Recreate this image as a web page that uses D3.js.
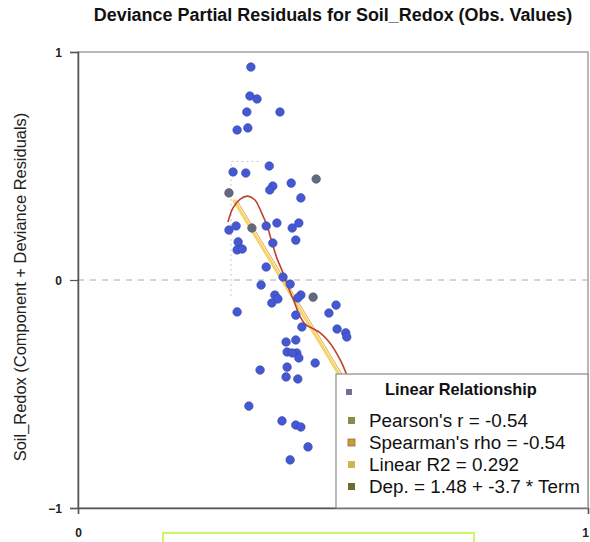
<!DOCTYPE html>
<html>
<head>
<meta charset="utf-8">
<script src="https://cdn.jsdelivr.net/npm/d3@7"></script>
<style>
  html, body { margin: 0; padding: 0; background: #fff; }
  svg { display: block; font-family: "Liberation Sans", Arial, sans-serif; }
</style>
</head>
<body>
<svg id="chart" width="590" height="542"></svg>
<script>
// Partial residuals (component + deviance residual) against the observed Soil_Redox term
const residX = [0.339, 0.337, 0.351, 0.331, 0.396, 0.312, 0.333, 0.375, 0.304, 0.329,
                0.382, 0.376, 0.418, 0.437, 0.369, 0.390, 0.433, 0.420, 0.427, 0.296,
                0.310, 0.314, 0.312, 0.322, 0.382, 0.369, 0.359, 0.402, 0.416, 0.386,
                0.380, 0.392, 0.437, 0.431, 0.312, 0.506, 0.492, 0.427, 0.439, 0.508,
                0.525, 0.527, 0.408, 0.427, 0.410, 0.429, 0.433, 0.420, 0.465, 0.357,
                0.410, 0.408, 0.431, 0.335, 0.400, 0.427, 0.437, 0.451, 0.416];
const residY = [0.934, 0.807, 0.794, 0.737, 0.737, 0.658, 0.667, 0.500, 0.474, 0.469,
                0.412, 0.395, 0.425, 0.360, 0.237, 0.250, 0.250, 0.228, 0.175, 0.219,
                0.237, 0.167, 0.132, 0.136, 0.162, 0.057, -0.022, 0.013, -0.018, -0.066,
                -0.101, -0.083, -0.066, -0.079, -0.140, -0.110, -0.145, -0.154, -0.206, -0.215,
                -0.232, -0.250, -0.272, -0.263, -0.316, -0.320, -0.342, -0.320, -0.364, -0.395,
                -0.382, -0.425, -0.434, -0.553, -0.618, -0.636, -0.645, -0.732, -0.789];

// Observations drawn in the secondary (grey) symbol
const greyX = [0.467, 0.296, 0.341, 0.461];
const greyY = [0.443, 0.382, 0.228, -0.075];

// Smoothed (local regression) curve through the residuals
const smoothX = [0.294, 0.304, 0.318, 0.333, 0.347, 0.361, 0.371, 0.380, 0.390, 0.402,
                 0.412, 0.424, 0.435, 0.447, 0.459, 0.475, 0.494, 0.508, 0.518, 0.527];
const smoothY = [0.254, 0.316, 0.355, 0.368, 0.351, 0.289, 0.237, 0.167, 0.096, 0.031,
                 -0.031, -0.096, -0.158, -0.197, -0.211, -0.232, -0.276, -0.325, -0.368, -0.417];

// Linear fit: Dep. = 1.48 + -3.7 * Term, drawn over the observed term range
const fitIntercept = 1.48;
const fitSlope = -3.7;
const fitRange = [0.305, 0.54];

// Dotted band outline around the smoother
const bandX = [0.300, 0.300, 0.361];
const bandY = [-0.07, 0.52, 0.52];

const xTicks = [0, 1];
const yTicks = [-1, 0, 1];

const titleText = "Deviance  Partial Residuals for Soil_Redox (Obs. Values)";
const yLabelText = "Soil_Redox (Component + Deviance Residuals)";
const legendTitle = "Linear Relationship";
const legendLabels = ["Pearson's r = -0.54", "Spearman's rho = -0.54", "Linear R2 = 0.292",
                      "Dep. = 1.48 + -3.7 * Term"];
const legendColors = ["#8c8a4a", "#c99a3e", "#cbb84c", "#6f6a2e"];

const svg = d3.select("#chart");
const plot = { left: 78, right: 588, top: 52, bottom: 508 };

const x = d3.scaleLinear().domain([0, 1]).range([plot.left, plot.right]);
const y = d3.scaleLinear().domain([-1, 1]).range([plot.bottom, plot.top]);

// scale a text node so that its rendered width equals the given width
function fitWidth(sel, width) {
  const w = sel.node().getComputedTextLength();
  const fs = parseFloat(sel.attr("font-size"));
  sel.attr("font-size", (fs * width / w).toFixed(2));
  return sel;
}

svg.append("clipPath").attr("id", "plotClip")
  .append("rect")
  .attr("x", plot.left).attr("y", plot.top)
  .attr("width", plot.right - plot.left).attr("height", plot.bottom - plot.top);

// frame
svg.append("rect")
  .attr("x", plot.left).attr("y", plot.top)
  .attr("width", plot.right - plot.left).attr("height", plot.bottom - plot.top)
  .attr("fill", "none").attr("stroke", "#8a8a8a").attr("stroke-width", 1.2);

// zero reference line
svg.append("line")
  .attr("x1", plot.left).attr("x2", plot.right)
  .attr("y1", y(0)).attr("y2", y(0))
  .attr("stroke", "#a8a8a8").attr("stroke-width", 1)
  .attr("stroke-dasharray", "6,6");

// axes
const yAxis = d3.axisLeft(y).tickValues(yTicks).tickSize(8).tickFormat(d3.format("d"));
const gy = svg.append("g").attr("transform", `translate(${plot.left},0)`).call(yAxis);
gy.select(".domain").attr("stroke", "#555").attr("stroke-width", 1.5);
gy.selectAll(".tick line").attr("stroke", "#555").attr("stroke-width", 1.2);
gy.selectAll(".tick text")
  .attr("font-size", 12).attr("font-weight", "bold").attr("fill", "#222")
  .attr("font-family", "Liberation Sans, Arial, sans-serif")
  .attr("x", -16).attr("dy", "0.35em");

const xAxis = d3.axisBottom(x).tickValues(xTicks).tickSize(6).tickFormat(d3.format("d"));
const gx = svg.append("g").attr("transform", `translate(0,${plot.bottom})`).call(xAxis);
gx.select(".domain").attr("stroke", "#555").attr("stroke-width", 1.5);
gx.selectAll(".tick line").attr("stroke", "#555").attr("stroke-width", 1.2);
gx.selectAll(".tick text")
  .attr("font-size", 12).attr("font-weight", "bold").attr("fill", "#222")
  .attr("font-family", "Liberation Sans, Arial, sans-serif")
  .attr("y", 20)
  .attr("dx", d => d === 1 ? -3 : 0);

// title
fitWidth(svg.append("text")
  .attr("x", (plot.left + plot.right) / 2).attr("y", 21)
  .attr("text-anchor", "middle")
  .attr("font-size", 14).attr("font-weight", "bold").attr("fill", "#111")
  .text(titleText), 479);

// y axis label
fitWidth(svg.append("text")
  .attr("transform", "translate(26,287) rotate(-90)")
  .attr("text-anchor", "middle")
  .attr("font-size", 12).attr("fill", "#222")
  .text(yLabelText), 349);

const body = svg.append("g").attr("clip-path", "url(#plotClip)");

// dotted band
body.append("path")
  .datum(bandX.map((d, i) => [d, bandY[i]]))
  .attr("d", d3.line().x(d => x(d[0])).y(d => y(d[1])))
  .attr("fill", "none").attr("stroke", "#c8c8c8").attr("stroke-width", 1)
  .attr("stroke-dasharray", "2,3");

// linear fit
const fitLine = d3.line().x(d => x(d)).y(d => y(fitIntercept + fitSlope * d));
body.append("path").datum(fitRange)
  .attr("d", fitLine)
  .attr("fill", "none").attr("stroke", "#f6d46a").attr("stroke-width", 3);
body.append("path").datum(fitRange)
  .attr("d", fitLine)
  .attr("transform", "translate(3,0)")
  .attr("fill", "none").attr("stroke", "#eba24a").attr("stroke-width", 1);

// smoothed curve
body.append("path")
  .datum(smoothX.map((d, i) => [d, smoothY[i]]))
  .attr("d", d3.line().curve(d3.curveCatmullRom.alpha(0.5)).x(d => x(d[0])).y(d => y(d[1])))
  .attr("fill", "none").attr("stroke", "#c0412c").attr("stroke-width", 1.6);

// residual points
body.selectAll("circle.resid")
  .data(residX.map((d, i) => [d, residY[i]]))
  .join("circle")
  .attr("class", "resid")
  .attr("cx", d => x(d[0])).attr("cy", d => y(d[1])).attr("r", 4.3)
  .attr("fill", "#4458d2").attr("stroke", "#3a48b0").attr("stroke-width", 0.6);

body.selectAll("circle.grey")
  .data(greyX.map((d, i) => [d, greyY[i]]))
  .join("circle")
  .attr("class", "grey")
  .attr("cx", d => x(d[0])).attr("cy", d => y(d[1])).attr("r", 4.3)
  .attr("fill", "#636a80").attr("stroke", "#525868").attr("stroke-width", 0.6);

// legend
const legend = svg.append("g");
legend.append("rect")
  .attr("x", 336).attr("y", 374)
  .attr("width", plot.right - 336).attr("height", plot.bottom - 374)
  .attr("fill", "#fff").attr("stroke", "#8a8a8a").attr("stroke-width", 1.2);
legend.append("rect")
  .attr("x", 346).attr("y", 389).attr("width", 6).attr("height", 6)
  .attr("fill", "#6e7392");
fitWidth(legend.append("text")
  .attr("x", 385).attr("y", 395)
  .attr("font-size", 14).attr("font-weight", "bold").attr("fill", "#111")
  .text(legendTitle), 152);

const baselines = [427, 449, 471, 493];
const items = legend.selectAll("g.item")
  .data(legendLabels)
  .join("g").attr("class", "item");
items.append("rect")
  .attr("x", 348).attr("y", (d, i) => baselines[i] - 10)
  .attr("width", 7).attr("height", 7)
  .attr("fill", (d, i) => legendColors[i])
  .attr("stroke", (d, i) => i === 1 ? "#9a7028" : "none").attr("stroke-width", 0.8);
const itemTexts = items.append("text")
  .attr("x", 369).attr("y", (d, i) => baselines[i])
  .attr("font-size", 18).attr("fill", "#111")
  .text(d => d);
// common size taken from the longest entry
const longest = d3.select(itemTexts.nodes()[3]);
fitWidth(longest, 211);
itemTexts.attr("font-size", longest.attr("font-size"));

// empty x-axis caption box
svg.append("rect")
  .attr("x", 163).attr("y", 533).attr("width", 311).attr("height", 20)
  .attr("fill", "none").attr("stroke", "#ccf56a").attr("stroke-width", 2);
</script>
</body>
</html>
